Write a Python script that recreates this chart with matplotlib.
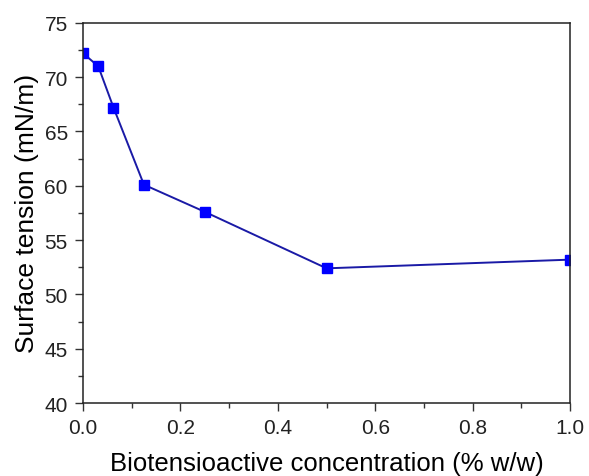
import matplotlib
matplotlib.use("Agg")
import matplotlib.pyplot as plt
from matplotlib.ticker import MultipleLocator

plt.rcParams['font.family'] = ['Liberation Sans', 'DejaVu Sans']

# data
conc = [0.0, 0.03125, 0.0625, 0.125, 0.25, 0.5, 1.0]
tension = [72.2, 71.0, 67.2, 60.1, 57.6, 52.4, 53.2]

fig = plt.figure(figsize=(5.89, 4.77), dpi=100)
ax = fig.add_axes([0.141, 0.153, 0.827, 0.797])

ax.plot(conc, tension, color='#1a1aa6', lw=1.4, marker='s', ms=6.5,
        mfc='#0000ff', mec='#0000ff')

ax.set_xlim(0, 1.0)
ax.set_ylim(40, 75)
ax.xaxis.set_major_locator(MultipleLocator(0.2))
ax.xaxis.set_minor_locator(MultipleLocator(0.1))
ax.yaxis.set_major_locator(MultipleLocator(5))
ax.yaxis.set_minor_locator(MultipleLocator(2.5))
ax.xaxis.set_major_formatter(plt.FormatStrFormatter('%.1f'))

ax.tick_params(which='both', direction='out', top=False, right=False, width=1,
               labelsize=15, color='#333333', labelcolor='#222222')
ax.tick_params(which='major', length=6, pad=5)
ax.tick_params(which='minor', length=3.5)
for s in ax.spines.values():
    s.set_linewidth(1.1)
    s.set_color('#222222')

ax.set_xlabel('Biotensioactive concentration (% w/w)', fontsize=18.5, labelpad=10)
ax.set_ylabel('Surface tension (mN/m)', fontsize=19, labelpad=4)

fig.savefig('out.png', dpi=100)
